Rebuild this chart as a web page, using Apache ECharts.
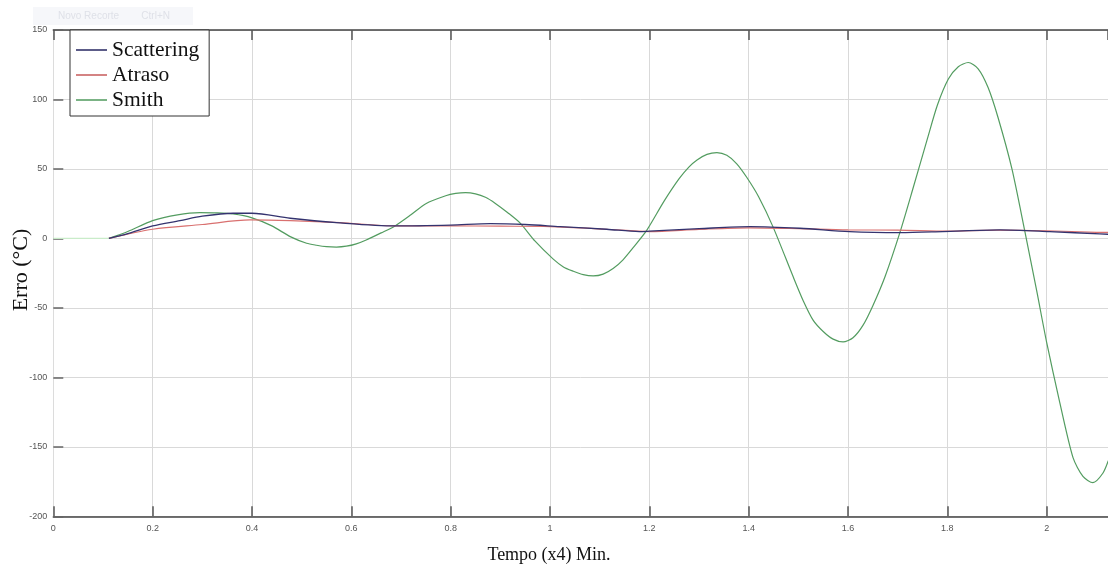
<!DOCTYPE html>
<html>
<head>
<meta charset="utf-8">
<title>Erro (°C) x Tempo</title>
<script src="https://cdn.jsdelivr.net/npm/echarts@6/dist/echarts.min.js"></script>
<style>
  html, body { margin: 0; padding: 0; background: #ffffff; }
  #chart { width: 1108px; height: 568px; }
</style>
</head>
<body>
<div id="chart"></div>
<script>
// Time axis (x4 min) and controller error (°C)
const xTicks = [0, 0.2, 0.4, 0.6, 0.8, 1, 1.2, 1.4, 1.6, 1.8, 2];
const yTicks = [-200, -150, -100, -50, 0, 50, 100, 150];

// Scattering controller
const scatteringX = [0.112, 0.15, 0.2, 0.255, 0.3, 0.362, 0.4, 0.477, 0.57, 0.688, 0.8, 0.88, 0.95, 1.02, 1.114, 1.18, 1.2, 1.3, 1.403, 1.503, 1.603, 1.705, 1.79, 1.906, 2.006, 2.107, 2.124];
const scatteringY = [0, 3.5, 9, 12.8, 16, 18.1, 18.1, 14.5, 11.4, 9, 9.6, 10.6, 10, 8.5, 6.6, 4.9, 5.2, 7, 8.5, 7.3, 4.9, 4.2, 4.9, 6.1, 4.9, 3.2, 3];

// Dead-time (Atraso) controller
const atrasoX = [0.112, 0.2, 0.3, 0.396, 0.477, 0.577, 0.688, 0.8, 0.9, 1.0, 1.114, 1.2, 1.3, 1.4, 1.5, 1.6, 1.7, 1.8, 1.9, 2.0, 2.1, 2.124];
const atrasoY = [0, 6.6, 10, 13.3, 12.8, 11.4, 9, 9, 8.8, 8.5, 6.6, 4.9, 6.5, 7.6, 7, 6.1, 6, 5.2, 6, 5.5, 4.4, 4.3];

// Smith predictor
const smithX = [0.112, 0.15, 0.2, 0.25, 0.295, 0.33, 0.362, 0.4, 0.44, 0.477, 0.51, 0.53, 0.55, 0.57, 0.59, 0.61, 0.63, 0.66, 0.688, 0.72, 0.75, 0.79, 0.81, 0.83, 0.85, 0.87, 0.89, 0.915, 0.94, 0.97, 1.006, 1.027, 1.047, 1.067, 1.087, 1.107, 1.127, 1.147, 1.17, 1.195, 1.23, 1.26, 1.28, 1.296, 1.316, 1.336, 1.356, 1.376, 1.396, 1.42, 1.449, 1.49, 1.51, 1.53, 1.55, 1.57, 1.59, 1.61, 1.63, 1.65, 1.675, 1.705, 1.73, 1.76, 1.78, 1.802, 1.822, 1.842, 1.862, 1.882, 1.902, 1.93, 1.956, 1.98, 2.0, 2.025, 2.053, 2.073, 2.093, 2.113, 2.124];
const smithY = [0, 5, 12.8, 17, 18.6, 18.4, 17.6, 14.8, 9, 1.3, -3.5, -4.9, -5.9, -6.2, -5.6, -3.9, -1.1, 4, 9, 17, 25, 30.7, 32.4, 33, 32.1, 29.6, 25.2, 18.5, 11, -2, -14.7, -20.5, -23.6, -26.1, -27, -25.7, -21.7, -15.4, -5.5, 6, 27, 43, 51.5, 56.5, 60.5, 61.8, 59.8, 53.7, 44, 30, 8.3, -28, -45, -59, -67, -72.5, -74.5, -71.5, -62.6, -48.4, -27, 4.9, 35, 72, 96, 114.7, 123.6, 126.6, 122.1, 108.6, 87, 50, 5, -38, -75, -116, -157.8, -171.3, -175.8, -169, -160];

// Flat lead-in before the step, drawn faintly
const leadInX = [0, 0.112];
const leadInY = [0, 0];

const zip = (xs, ys) => xs.map((x, i) => [x, ys[i]]);

const chart = echarts.init(document.getElementById('chart'));
const tickFmt = v => (xTicks.some(t => Math.abs(t - v) < 1e-6) ? String(Math.round(v * 10) / 10) : '');

chart.setOption({
  animation: false,
  backgroundColor: '#ffffff',
  grid: { left: 53.3, right: 0, top: 30, bottom: 51.7, containLabel: false },
  xAxis: [
    {
      type: 'value', min: 0, max: 2.1234, interval: 0.2, position: 'bottom',
      axisLine: { show: true, onZero: false, lineStyle: { color: '#444444', width: 1.5 } },
      axisTick: { show: true, inside: true, length: 10, lineStyle: { color: '#555555', width: 1.5 } },
      axisLabel: { show: true, showMaxLabel: false, color: '#555555', fontSize: 9, fontFamily: 'Liberation Sans, Arial, sans-serif', margin: 8, formatter: tickFmt },
      splitLine: { show: true, lineStyle: { color: '#d9d9d9', width: 1 } }
    },
    {
      type: 'value', min: 0, max: 2.1234, interval: 0.2, position: 'top',
      axisLine: { show: true, onZero: false, lineStyle: { color: '#444444', width: 1.5 } },
      axisTick: { show: true, inside: true, length: 10, lineStyle: { color: '#555555', width: 1.5 } },
      axisLabel: { show: false },
      splitLine: { show: false }
    }
  ],
  yAxis: {
    type: 'value', min: -200, max: 150, interval: 50,
    axisLine: { show: true, onZero: false, lineStyle: { color: '#dcdcdc', width: 1 } },
    axisTick: { show: true, inside: true, length: 10, lineStyle: { color: '#666666', width: 1.5 } },
    axisLabel: { color: '#555555', fontSize: 9, fontFamily: 'Liberation Sans, Arial, sans-serif', margin: 6 },
    splitLine: { show: true, lineStyle: { color: '#d9d9d9', width: 1 } }
  },
  legend: {
    orient: 'vertical', left: 70, top: 30,
    padding: [8, 10, 4, 6],
    backgroundColor: '#ffffff', borderColor: '#333333', borderWidth: 1, borderRadius: 0,
    itemWidth: 31, itemHeight: 1.5, itemGap: 1, icon: 'rect',
    textStyle: { fontFamily: 'Liberation Serif, Times New Roman, serif', fontSize: 21.5, color: '#111111', lineHeight: 24 },
    data: ['Scattering', 'Atraso', 'Smith']
  },
  graphic: [
    {
      type: 'rect', left: 33, top: 7, shape: { width: 160, height: 18 },
      style: { fill: '#f6f7fa' }, silent: true, z: -1
    },
    {
      type: 'text', left: 58, top: 11,
      style: { text: 'Novo Recorte        Ctrl+N', fill: '#dfe1e8', fontSize: 10, fontFamily: 'Liberation Sans, Arial, sans-serif' }, silent: true
    },
    {
      type: 'text', x: 21, y: 270, rotation: Math.PI / 2,
      style: { text: 'Erro (°C)', fill: '#111111', fontSize: 22, fontFamily: 'Liberation Serif, Times New Roman, serif', align: 'center', verticalAlign: 'middle' }
    },
    {
      type: 'text', x: 549, y: 555,
      style: { text: 'Tempo (x4) Min.', fill: '#111111', fontSize: 18, fontFamily: 'Liberation Serif, Times New Roman, serif', align: 'center', verticalAlign: 'middle' }
    }
  ],
  series: [
    {
      name: 'lead-in', type: 'line', data: zip(leadInX, leadInY), showSymbol: false, silent: true,
      lineStyle: { color: '#c9ecc9', width: 1.2 }, z: 1
    },
    {
      name: 'Smith', type: 'line', data: zip(smithX, smithY), showSymbol: false, smooth: 0.25,
      lineStyle: { color: '#539c60', width: 1.2 }, itemStyle: { color: '#4f9a5c' }, z: 2
    },
    {
      name: 'Atraso', type: 'line', data: zip(atrasoX, atrasoY), showSymbol: false, smooth: 0.3,
      lineStyle: { color: '#d9706f', width: 1.2 }, itemStyle: { color: '#c65a5a' }, z: 3
    },
    {
      name: 'Scattering', type: 'line', data: zip(scatteringX, scatteringY), showSymbol: false, smooth: 0.3,
      lineStyle: { color: '#34336f', width: 1.3 }, itemStyle: { color: '#262660' }, z: 4
    }
  ]
});
</script>
</body>
</html>
